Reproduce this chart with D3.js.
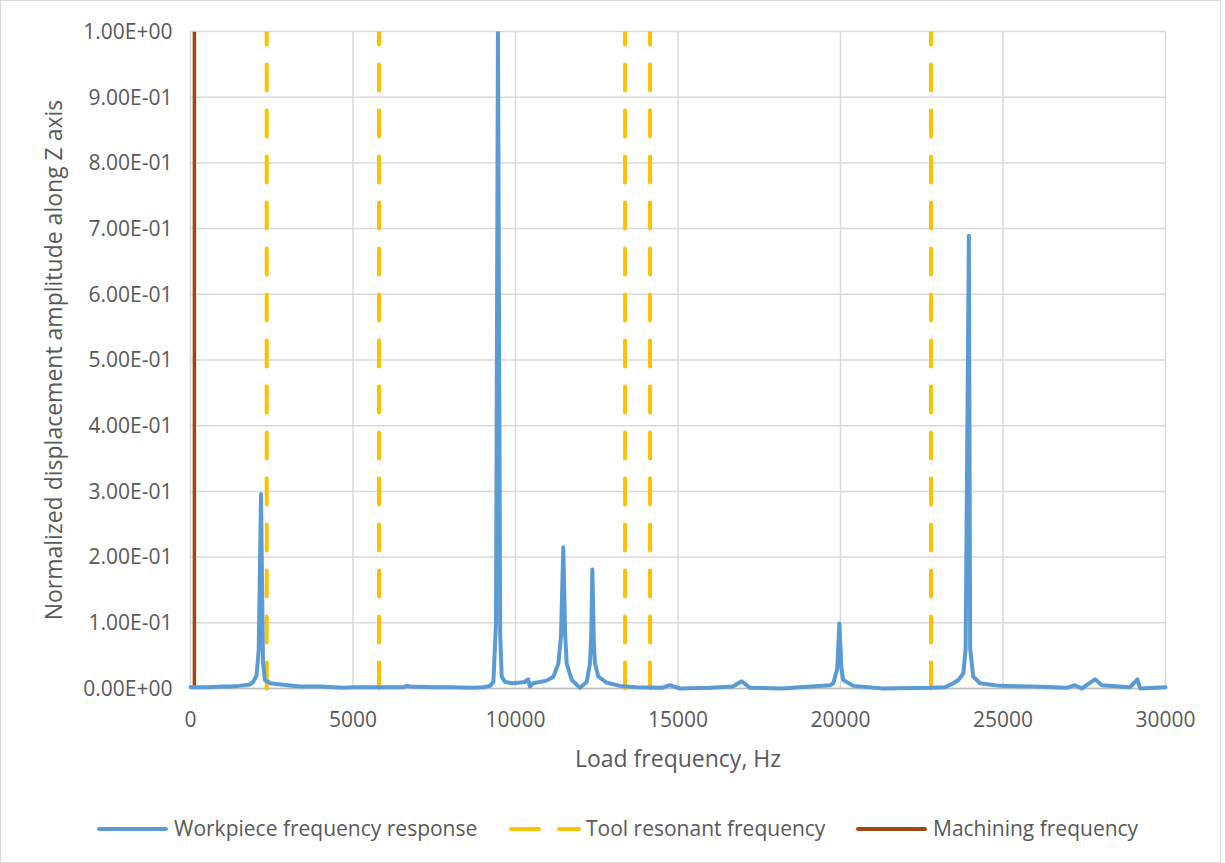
<!DOCTYPE html>
<html>
  <head>
    <title>Workpiece frequency response</title>
    <script src="https://d3js.org/d3.v7.min.js"></script>
    <style>
      body { margin: 0; background: #fff; }
      text { font-family: "Open Sans", "Liberation Sans", sans-serif; fill: #595959; }
      .tick-label { font-size: 21px; }
      .axis-title { font-size: 23px; }
      .legend-text { font-size: 21px; }
    </style>
  </head>
  <body>
    <div id="chart"></div>
    <script>
      // Workpiece response (Hz, normalized amplitude)
      const freq = [0, 500, 1000, 1215, 1500, 1830, 1930, 2035, 2100, 2170, 2230, 2290, 2395, 2445, 3000, 3370, 4000, 4700,
        5000, 6000, 6550, 6650, 6750, 7500, 8000, 8700, 9010, 9215, 9320, 9400, 9460, 9530, 9575, 9677, 9920, 10290,
        10390, 10445, 10540, 10960, 11165, 11320, 11400, 11470, 11530, 11575, 11730, 11985, 12190, 12290, 12330, 12365,
        12410, 12445, 12550, 12805, 13215, 13700, 14500, 14750, 15060, 16000, 16690, 16960, 17215, 18230, 18750, 19675,
        19780, 19900, 19965, 20030, 20085, 20395, 21320, 22750, 23215, 23470, 23625, 23780, 23850, 23950, 23990, 24085,
        24190, 24290, 24910, 25930, 26960, 27215, 27420, 27830, 28040, 28910, 29135, 29220, 30000];
      const amp = [0.002, 0.002, 0.003, 0.003, 0.004, 0.006, 0.010, 0.020, 0.060, 0.296, 0.040, 0.013, 0.010, 0.008, 0.005, 0.003, 0.003, 0.001,
        0.002, 0.002, 0.002, 0.004, 0.003, 0.002, 0.002, 0.001, 0.002, 0.004, 0.010, 0.100, 1.000, 0.080, 0.018, 0.010, 0.008, 0.010,
        0.014, 0.003, 0.008, 0.012, 0.018, 0.038, 0.080, 0.215, 0.080, 0.038, 0.013, 0.001, 0.010, 0.038, 0.080, 0.181,
        0.070, 0.038, 0.018, 0.009, 0.004, 0.002, 0.001, 0.005, 0.000, 0.001, 0.003, 0.011, 0.001, 0.000, 0.002, 0.005,
        0.008, 0.030, 0.099, 0.030, 0.013, 0.004, 0.000, 0.001, 0.002, 0.008, 0.013, 0.023, 0.060, 0.689, 0.060, 0.018,
        0.013, 0.008, 0.004, 0.003, 0.001, 0.005, 0.000, 0.014, 0.005, 0.002, 0.014, 0.000, 0.002];
      const toolFreqs = [2345, 5800, 13370, 14140, 22785];
      const machiningFreq = 120;
      const xTicks = [0, 5000, 10000, 15000, 20000, 25000, 30000];
      const yTicks = [0, 0.1, 0.2, 0.3, 0.4, 0.5, 0.6, 0.7, 0.8, 0.9, 1.0];
      const yTickLabels = ["0.00E+00", "1.00E-01", "2.00E-01", "3.00E-01", "4.00E-01", "5.00E-01",
        "6.00E-01", "7.00E-01", "8.00E-01", "9.00E-01", "1.00E+00"];
      const seriesNames = ["Workpiece frequency response", "Tool resonant frequency", "Machining frequency"];

      const W = 1225, H = 863;
      const margin = { top: 31.5, right: 59.5, bottom: 174.5, left: 190.5 };
      const width = W - margin.left - margin.right;
      const height = H - margin.top - margin.bottom;

      const svg = d3.select("#chart").append("svg")
        .attr("width", W).attr("height", H);

      // chart border
      svg.append("rect")
        .attr("x", 0.5).attr("y", 0.5).attr("width", 1220).attr("height", H - 1)
        .attr("fill", "none").attr("stroke", "#d9d9d9");

      const g = svg.append("g").attr("transform", `translate(${margin.left},${margin.top})`);

      const x = d3.scaleLinear().domain([0, 30000]).range([0, width]);
      const y = d3.scaleLinear().domain([0, 1]).range([height, 0]);

      g.append("clipPath").attr("id", "plot-clip")
        .append("rect").attr("x", -3).attr("y", 0).attr("width", width + 6).attr("height", height + 3);

      // gridlines
      g.selectAll(".hgrid").data(yTicks).enter().append("line")
        .attr("x1", 0).attr("x2", width)
        .attr("y1", d => y(d)).attr("y2", d => y(d))
        .attr("stroke", "#d9d9d9").attr("stroke-width", 1.5);
      g.selectAll(".vgrid").data(xTicks).enter().append("line")
        .attr("x1", d => x(d)).attr("x2", d => x(d))
        .attr("y1", 0).attr("y2", height)
        .attr("stroke", "#d9d9d9").attr("stroke-width", 1.5);

      // x axis baseline
      g.append("line").attr("x1", 0).attr("x2", width).attr("y1", height).attr("y2", height)
        .attr("stroke", "#bfbfbf").attr("stroke-width", 1.5);

      // tick labels
      g.selectAll(".ylab").data(yTicks).enter().append("text")
        .attr("class", "tick-label")
        .attr("x", -18).attr("y", d => y(d)).attr("dy", "0.35em")
        .attr("text-anchor", "end")
        .text((d, i) => yTickLabels[i]);
      g.selectAll(".xlab").data(xTicks).enter().append("text")
        .attr("class", "tick-label")
        .attr("x", d => x(d)).attr("y", height + 38)
        .attr("text-anchor", "middle")
        .text(d => d);

      const plot = g.append("g").attr("clip-path", "url(#plot-clip)");

      // machining frequency
      plot.append("line")
        .attr("x1", x(machiningFreq)).attr("x2", x(machiningFreq))
        .attr("y1", y(0)).attr("y2", y(1))
        .attr("stroke", "#9e480e").attr("stroke-width", 3.5);

      // tool resonant frequencies
      plot.selectAll(".tool").data(toolFreqs).enter().append("line")
        .attr("x1", d => x(d)).attr("x2", d => x(d))
        .attr("y1", y(0)).attr("y2", y(1))
        .attr("stroke", "#ffc000").attr("stroke-width", 4)
        .attr("stroke-linecap", "round")
        .attr("stroke-dasharray", "26,20");

      // workpiece response
      const line = d3.line().x(d => x(d[0])).y(d => y(d[1]));
      plot.append("path")
        .datum(freq.map((f, i) => [f, amp[i]]))
        .attr("d", line)
        .attr("fill", "none")
        .attr("stroke", "#5b9bd5").attr("stroke-width", 4)
        .attr("stroke-linejoin", "round").attr("stroke-linecap", "round");

      // axis titles
      svg.append("text").attr("class", "axis-title")
        .attr("x", margin.left + width / 2).attr("y", 767)
        .attr("text-anchor", "middle")
        .text("Load frequency, Hz");
      svg.append("text").attr("class", "axis-title")
        .attr("transform", `translate(62,${margin.top + height / 2}) rotate(-90)`)
        .attr("text-anchor", "middle")
        .text("Normalized displacement amplitude along Z axis");

      // legend
      const ly = 829;
      const legend = svg.append("g");
      legend.append("line").attr("x1", 99).attr("x2", 166).attr("y1", ly).attr("y2", ly)
        .attr("stroke", "#5b9bd5").attr("stroke-width", 4).attr("stroke-linecap", "round");
      legend.append("text").attr("class", "legend-text").attr("x", 174).attr("y", ly).attr("dy", "0.35em")
        .text(seriesNames[0]);
      legend.append("line").attr("x1", 511).attr("x2", 579).attr("y1", ly).attr("y2", ly)
        .attr("stroke", "#ffc000").attr("stroke-width", 4).attr("stroke-linecap", "round")
        .attr("stroke-dasharray", "28,20");
      legend.append("text").attr("class", "legend-text").attr("x", 586).attr("y", ly).attr("dy", "0.35em")
        .text(seriesNames[1]);
      legend.append("line").attr("x1", 858).attr("x2", 925).attr("y1", ly).attr("y2", ly)
        .attr("stroke", "#9e480e").attr("stroke-width", 4).attr("stroke-linecap", "round");
      legend.append("text").attr("class", "legend-text").attr("x", 933).attr("y", ly).attr("dy", "0.35em")
        .text(seriesNames[2]);
    </script>
  </body>
</html>
